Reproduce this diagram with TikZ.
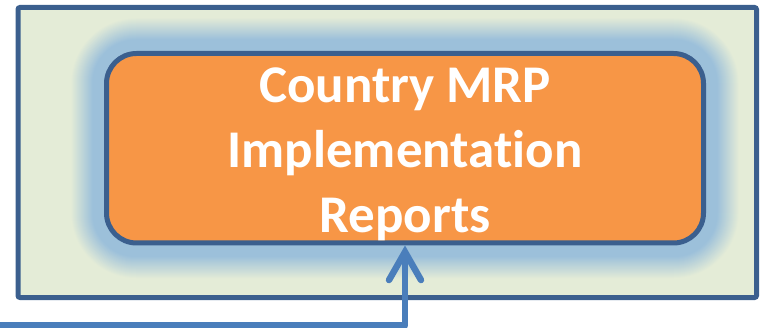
\documentclass[tikz,border=0pt]{standalone}
\usepackage{fontspec}
\setmainfont{Carlito}[Ligatures={NoCommon,NoContextual}]
\usetikzlibrary{arrows.meta,calc}
\definecolor{bgreen}{HTML}{E4ECD7}
\definecolor{frameblue}{HTML}{3B5F8E}
\definecolor{glowblue}{HTML}{9CC0DA}
\definecolor{orangefill}{HTML}{F79646}
\definecolor{arrowblue}{HTML}{4A7EBB}
\tikzset{
  framebox/.style={draw=frameblue, fill=bgreen, line width=5pt, rounded corners=2pt,
    minimum width=738.5pt, minimum height=290pt, inner sep=0pt},
  reportbox/.style={draw=frameblue, fill=orangefill, line width=5pt, rounded corners=30pt,
    minimum width=597pt, minimum height=189.5pt, inner sep=0pt},
  label/.style={text=white, font=\fontsize{53}{65}\selectfont\bfseries, align=center, inner sep=0pt},
  flow/.style={draw=arrowblue, line width=6.5pt, line cap=round, line join=round},
}
\begin{document}
\begin{tikzpicture}[x=1pt,y=-1pt]
\useasboundingbox (0,0) rectangle (767,328);
\node[framebox] (frame) at (387.25,152.5) {};
\coordinate (nw) at (106.5,53.5);
\coordinate (se) at (703.5,243);
\foreach \e in {36,35,...,1}{
  \pgfmathsetmacro\p{min(100,max(0,(36-\e)/22*100))}
  \fill[glowblue!\p!bgreen, rounded corners=30+\e] ($(nw)+(-\e,-\e)$) rectangle ($(se)+(\e,\e)$);
}
\node[reportbox] (rep) at (405,148.25) {};
\node[label] (txt) at (405,154) {Country MRP\\Implementation\\Reports};
\coordinate (start) at (0,325.5);
\draw[flow, line cap=butt, -{Straight Barb[length=28pt,width=32pt,line cap=round]}] (start) -| (rep.south);
\end{tikzpicture}
\end{document}
